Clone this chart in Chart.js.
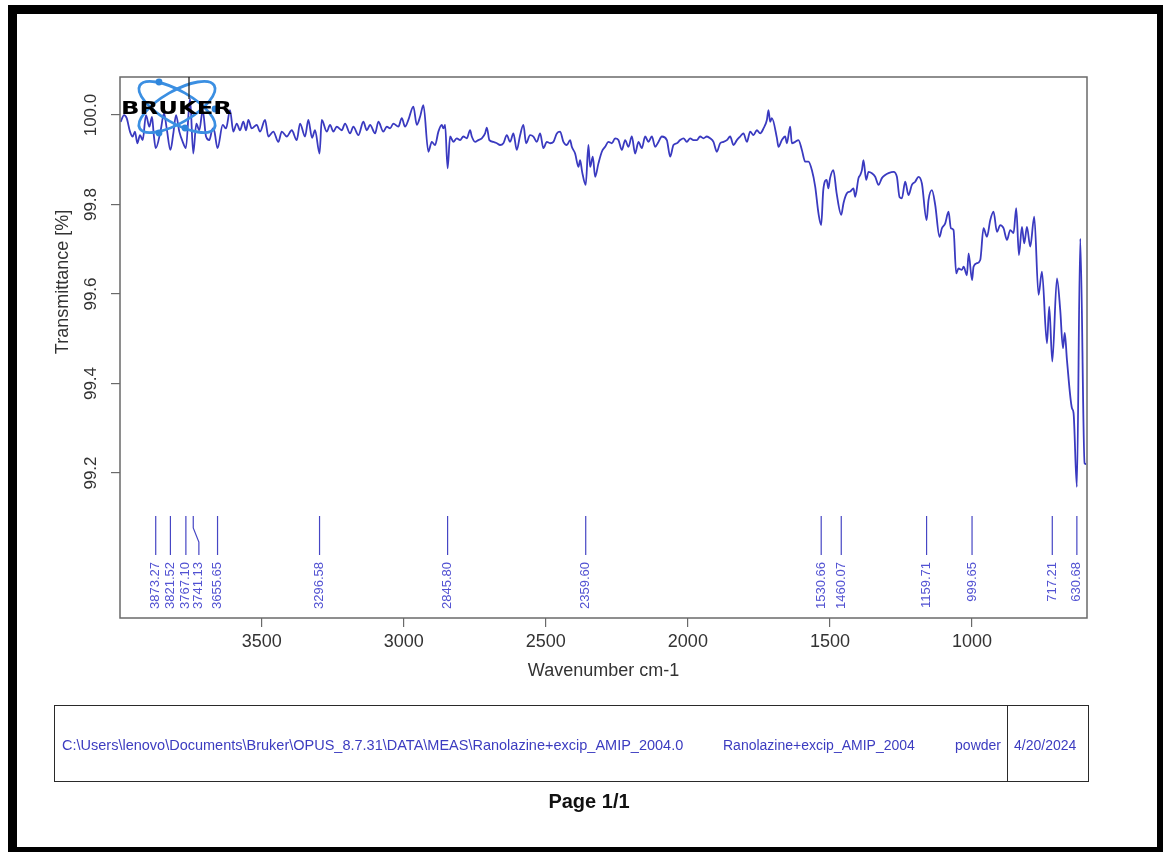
<!DOCTYPE html>
<html>
<head>
<meta charset="utf-8">
<title>Ranolazine+excip_AMIP_2004</title>
<script src="https://cdn.jsdelivr.net/npm/chart.js@4/dist/chart.umd.min.js"></script>
<style>
  html, body { margin: 0; padding: 0; background: #fff; }
  body { width: 1166px; height: 852px; position: relative; overflow: hidden;
         font-family: "Liberation Sans", Arial, sans-serif; }
  #spectrum { position: absolute; left: 0; top: 0; }
  .edge { position: absolute; background: #000; }
  #info { position: absolute; left: 54px; top: 705px; width: 1035px; height: 77px;
          border: 1.5px solid #2a2a2a; box-sizing: border-box; }
  #info .sep { position: absolute; left: 952px; top: 0; bottom: 0; width: 0;
               border-left: 1.5px solid #2a2a2a; }
  .cell { position: absolute; top: 30px; height: 18px; line-height: 18px;
          font-size: 14px; color: #3c3cc0; white-space: nowrap; }
  #page { position: absolute; left: 0; width: 1178px; top: 789px; height: 24px; line-height: 24px;
          text-align: center; font-weight: bold; font-size: 20px; color: #111; }
</style>
</head>
<body>
<div class="edge" style="left:8px;top:5px;width:1152px;height:9px"></div>
<div class="edge" style="left:8px;top:5px;width:9px;height:847px"></div>
<div class="edge" style="left:1157px;top:5px;width:6px;height:847px"></div>
<div class="edge" style="left:8px;top:847px;width:1155px;height:5px"></div>

<canvas id="spectrum" width="1166" height="852"></canvas>

<div id="info">
  <div class="cell" style="left:7px;font-size:14.5px">C:\Users\lenovo\Documents\Bruker\OPUS_8.7.31\DATA\MEAS\Ranolazine+excip_AMIP_2004.0</div>
  <div class="cell" style="left:668px">Ranolazine+excip_AMIP_2004</div>
  <div class="cell" style="left:880px;width:66px;text-align:right">powder</div>
  <div class="sep"></div>
  <div class="cell" style="left:959px">4/20/2024</div>
</div>
<div id="page">Page 1/1</div>

<script>
// Wavenumbers (cm-1) of the recorded spectrum, high to low
const WAVENUMBER = [
  3996.5, 3984.9, 3975.4, 3963.8, 3954.3, 3946.2, 3938.1, 3928.6, 3919.1, 3907.5,
  3895.8, 3886.3, 3880.0, 3873.27, 3855.7, 3844.1, 3834.6, 3821.52, 3811.3, 3801.8,
  3790.2, 3778.2, 3767.10, 3752.5, 3741.13, 3730.3, 3719.8, 3707.8, 3696.2, 3684.6,
  3672.6, 3666.6, 3655.65, 3637.4, 3625.8, 3611.7, 3600.1, 3588.1, 3576.5, 3564.8,
  3555.3, 3547.2, 3535.3, 3517.7, 3506.0, 3488.4, 3476.8, 3459.2, 3441.6, 3429.6,
  3412.0, 3394.4, 3376.8, 3365.2, 3347.6, 3336.0, 3323.0, 3312.4, 3296.58, 3288.8,
  3271.2, 3259.6, 3247.9, 3236.0, 3218.4, 3206.8, 3189.1, 3177.5, 3159.9, 3142.3,
  3130.3, 3118.7, 3101.1, 3089.5, 3071.9, 3059.9, 3048.3, 3036.7, 3019.1, 3007.1,
  2995.5, 2983.9, 2966.3, 2954.3, 2942.7, 2931.0, 2913.5, 2901.5, 2889.9, 2878.2,
  2866.3, 2860.6, 2854.6, 2845.80, 2837.0, 2825.4, 2813.4, 2801.8, 2790.2, 2778.2,
  2766.6, 2760.6, 2749.0, 2737.4, 2725.4, 2713.8, 2707.8, 2698.7, 2684.6, 2672.6,
  2661.0, 2649.4, 2637.4, 2625.8, 2614.2, 2602.2, 2590.6, 2579.0, 2569.5, 2555.4,
  2543.7, 2531.8, 2520.1, 2508.5, 2496.5, 2484.9, 2473.3, 2461.3, 2449.7, 2438.1,
  2426.1, 2414.5, 2408.5, 2396.9, 2385.2, 2379.3, 2372.2, 2359.60, 2350.1, 2344.1,
  2334.6, 2326.5, 2314.8, 2302.9, 2291.3, 2279.6, 2267.7, 2256.1, 2244.5, 2232.5,
  2220.8, 2209.2, 2197.3, 2185.6, 2174.0, 2162.0, 2150.4, 2138.8, 2126.8, 2115.2,
  2103.6, 2091.6, 2074.0, 2062.4, 2050.7, 2038.8, 2027.2, 2015.5, 2003.6, 1991.9,
  1980.3, 1968.4, 1956.8, 1945.1, 1933.2, 1921.6, 1909.9, 1898.0, 1886.3, 1874.7,
  1862.7, 1851.1, 1839.5, 1827.5, 1815.9, 1804.3, 1792.3, 1780.7, 1769.1, 1757.1,
  1745.5, 1733.8, 1721.9, 1716.3, 1710.3, 1704.3, 1686.7, 1681.0, 1669.1, 1657.5,
  1651.5, 1639.9, 1634.0, 1622.3, 1610.7, 1598.7, 1587.1, 1575.4, 1563.5, 1551.8,
  1540.2, 1530.66, 1523.4, 1511.5, 1505.5, 1499.5, 1487.9, 1476.3, 1460.07, 1452.2,
  1440.2, 1428.6, 1417.0, 1411.0, 1399.4, 1393.4, 1387.4, 1381.8, 1372.3, 1364.1,
  1352.2, 1340.6, 1328.9, 1317.0, 1305.4, 1293.7, 1276.1, 1264.2, 1255.0, 1246.6,
  1235.0, 1223.4, 1211.4, 1199.8, 1188.1, 1176.2, 1159.71, 1152.9, 1140.9, 1129.3,
  1114.2, 1105.7, 1094.1, 1082.5, 1074.0, 1064.9, 1055.4, 1047.3, 1035.3, 1029.3,
  1017.7, 1011.8, 999.65, 994.4, 982.5, 970.8, 959.2, 947.2, 935.6, 924.0,
  912.0, 900.4, 888.8, 876.8, 865.2, 853.6, 844.1, 834.6, 824.1, 816.0,
  806.4, 794.8, 780.7, 765.6, 753.6, 736.0, 727.9, 717.21, 700.8, 689.2,
  679.7, 673.3, 665.6, 648.0, 642.3, 630.68, 618.7, 603.5, 598.0
];

// Transmittance (%) at each wavenumber above
const TRANSMITTANCE = [
  99.985, 100.000, 99.993, 99.963, 99.952, 99.963, 99.937, 99.955, 99.944, 100.000,
  99.974, 99.996, 99.955, 99.926, 99.966, 100.004, 99.970, 99.922, 99.959, 100.000,
  99.963, 99.940, 99.926, 100.037, 99.914, 99.981, 99.966, 100.011, 99.952, 99.944,
  99.970, 99.963, 99.926, 99.978, 99.970, 100.011, 99.963, 99.981, 99.966, 99.985,
  99.966, 99.989, 99.970, 99.978, 99.963, 99.989, 99.952, 99.963, 99.940, 99.963,
  99.952, 99.966, 99.944, 99.981, 99.952, 99.989, 99.949, 99.966, 99.914, 99.989,
  99.963, 99.978, 99.963, 99.974, 99.966, 99.981, 99.959, 99.974, 99.955, 99.985,
  99.966, 99.978, 99.959, 99.985, 99.963, 99.974, 99.970, 99.981, 99.974, 99.993,
  99.974, 99.989, 100.019, 99.978, 99.996, 100.022, 99.918, 99.940, 99.933, 99.963,
  99.978, 99.970, 99.978, 99.881, 99.952, 99.940, 99.948, 99.944, 99.952, 99.948,
  99.966, 99.952, 99.940, 99.944, 99.948, 99.959, 99.972, 99.944, 99.940, 99.937,
  99.933, 99.937, 99.955, 99.940, 99.959, 99.922, 99.955, 99.978, 99.937, 99.955,
  99.952, 99.940, 99.959, 99.926, 99.940, 99.937, 99.940, 99.959, 99.963, 99.940,
  99.933, 99.944, 99.929, 99.914, 99.884, 99.899, 99.873, 99.844, 99.933, 99.884,
  99.907, 99.862, 99.892, 99.918, 99.929, 99.940, 99.937, 99.948, 99.944, 99.922,
  99.944, 99.929, 99.952, 99.914, 99.940, 99.926, 99.952, 99.940, 99.952, 99.929,
  99.940, 99.952, 99.944, 99.907, 99.933, 99.937, 99.944, 99.948, 99.940, 99.948,
  99.944, 99.944, 99.952, 99.948, 99.952, 99.948, 99.940, 99.918, 99.937, 99.940,
  99.944, 99.952, 99.933, 99.944, 99.952, 99.959, 99.940, 99.963, 99.955, 99.966,
  99.959, 99.970, 99.989, 100.011, 99.985, 99.993, 99.949, 99.929, 99.944, 99.952,
  99.937, 99.974, 99.937, 99.940, 99.944, 99.922, 99.896, 99.896, 99.877, 99.840,
  99.780, 99.754, 99.832, 99.855, 99.836, 99.859, 99.877, 99.825, 99.777, 99.803,
  99.825, 99.829, 99.836, 99.817, 99.859, 99.866, 99.877, 99.899, 99.855, 99.873,
  99.870, 99.862, 99.844, 99.859, 99.866, 99.870, 99.873, 99.862, 99.817, 99.814,
  99.851, 99.821, 99.844, 99.851, 99.862, 99.847, 99.765, 99.810, 99.832, 99.799,
  99.728, 99.747, 99.758, 99.784, 99.747, 99.743, 99.646, 99.657, 99.654, 99.661,
  99.642, 99.691, 99.631, 99.661, 99.669, 99.676, 99.747, 99.728, 99.765, 99.784,
  99.739, 99.754, 99.747, 99.721, 99.743, 99.736, 99.792, 99.687, 99.750, 99.713,
  99.750, 99.706, 99.773, 99.598, 99.650, 99.490, 99.572, 99.449, 99.635, 99.564,
  99.479, 99.513, 99.453, 99.345, 99.334, 99.169, 99.724, 99.222, 99.220
];

// Picked absorption bands (cm-1) and their printed labels
const PEAKS = [3873.27, 3821.52, 3767.10, 3741.13, 3655.65, 3296.58, 2845.80, 2359.60,
               1530.66, 1460.07, 1159.71, 999.65, 717.21, 630.68];
const PEAK_LABELS = ['3873.27', '3821.52', '3767.10', '3741.13', '3655.65', '3296.58', '2845.80',
                     '2359.60', '1530.66', '1460.07', '1159.71', '999.65', '717.21', '630.68'];

// Axis ticks
const X_TICKS = [3500, 3000, 2500, 2000, 1500, 1000];
const Y_TICKS = [99.2, 99.4, 99.6, 99.8, 100.0];
const Y_TICK_LABELS = ['99.2', '99.4', '99.6', '99.8', '100.0'];

const AXIS_FONT = '"Liberation Sans", Arial, sans-serif';
const INK = '#333333';

// Frame, rotated y labels, peak markers and the instrument logo
const spectrumDecor = {
  id: 'spectrumDecor',
  afterDatasetsDraw(chart) {
    const { ctx, chartArea: a, scales } = chart;
    const xs = scales.x, ys = scales.y;
    ctx.save();

    // plot box
    ctx.strokeStyle = '#6a6a6a';
    ctx.lineWidth = 1.5;
    ctx.strokeRect(a.left, a.top, a.right - a.left, a.bottom - a.top);

    // y tick labels, written along the axis
    ctx.fillStyle = INK;
    ctx.font = '17px ' + AXIS_FONT;
    ctx.textAlign = 'center';
    ctx.textBaseline = 'middle';
    Y_TICKS.forEach((v, i) => {
      ctx.save();
      ctx.translate(a.left - 28.5, ys.getPixelForValue(v));
      ctx.rotate(-Math.PI / 2);
      ctx.fillText(Y_TICK_LABELS[i], 0, 0);
      ctx.restore();
    });

    // y axis title
    ctx.save();
    ctx.font = '18px ' + AXIS_FONT;
    ctx.translate(a.left - 57, a.top + 205);
    ctx.rotate(-Math.PI / 2);
    ctx.fillText('Transmittance [%]', 0, 0);
    ctx.restore();

    // peak markers with labels, nudged apart where bands crowd together
    const lineTop = a.bottom - 102, bendTop = a.bottom - 90, bendBottom = a.bottom - 76;
    const lineBottom = a.bottom - 63, textEnd = a.bottom - 56;
    let prevLabelX = -Infinity;
    ctx.lineWidth = 1.2;
    ctx.strokeStyle = '#4646c4';
    ctx.fillStyle = '#5252d2';
    ctx.font = '13px ' + AXIS_FONT;
    ctx.textAlign = 'right';
    PEAKS.forEach((p, i) => {
      const px = xs.getPixelForValue(p);
      const lx = Math.max(px, prevLabelX + 13);
      prevLabelX = lx;
      ctx.beginPath();
      if (lx - px > 0.5) {
        ctx.moveTo(px, lineTop);
        ctx.lineTo(px, bendTop);
        ctx.lineTo(lx, bendBottom);
        ctx.lineTo(lx, lineBottom);
      } else {
        ctx.moveTo(px, lineTop);
        ctx.lineTo(px, lineBottom);
      }
      ctx.stroke();
      ctx.save();
      ctx.translate(lx, textEnd);
      ctx.rotate(-Math.PI / 2);
      ctx.fillText(PEAK_LABELS[i], 0, 0);
      ctx.restore();
    });

    // logo: atom orbits with the maker's name across them
    const cx = a.left + 57, cy = a.top + 30;
    ctx.strokeStyle = '#3b8fe2';
    ctx.lineWidth = 2.8;
    [Math.PI / 6, -Math.PI / 6].forEach(rot => {
      ctx.beginPath();
      ctx.ellipse(cx, cy, 43, 16, rot, 0, Math.PI * 2);
      ctx.stroke();
    });
    ctx.fillStyle = '#2f86dc';
    [[-18, -25], [-18, 26], [8, 21], [38, 2]].forEach(([dx, dy]) => {
      ctx.beginPath();
      ctx.arc(cx + dx, cy + dy, 3.4, 0, Math.PI * 2);
      ctx.fill();
    });
    ctx.strokeStyle = '#222';
    ctx.lineWidth = 1.3;
    ctx.beginPath();
    ctx.moveTo(a.left + 69, a.top);
    ctx.lineTo(a.left + 69, a.top + 22);
    ctx.stroke();
    ctx.fillStyle = '#000';
    ctx.font = 'bold 17px "DejaVu Sans", ' + AXIS_FONT;
    ctx.textAlign = 'left';
    ctx.textBaseline = 'alphabetic';
    const w = ctx.measureText('BRUKER').width;
    ctx.translate(a.left + 1, a.top + 36.5);
    ctx.scale(111 / w, 1);
    ctx.fillText('BRUKER', 0, 0);

    ctx.restore();
  }
};

new Chart(document.getElementById('spectrum'), {
  type: 'line',
  data: {
    datasets: [{
      data: WAVENUMBER.map((w, i) => ({ x: w, y: TRANSMITTANCE[i] })),
      borderColor: '#3a3ac0',
      borderWidth: 1.8,
      pointRadius: 0,
      cubicInterpolationMode: 'monotone',
      borderJoinStyle: 'round',
      fill: false
    }]
  },
  options: {
    responsive: false,
    animation: false,
    devicePixelRatio: 1,
    layout: { padding: { left: 0, top: 77, right: 79, bottom: 168 } },
    plugins: { legend: { display: false }, tooltip: { enabled: false } },
    scales: {
      x: {
        type: 'linear',
        position: 'bottom',
        reverse: true,
        min: 595,
        max: 3999,
        afterBuildTicks: s => { s.ticks = X_TICKS.map(v => ({ value: v })); },
        afterFit: s => { s.height = 66; },
        ticks: {
          callback: v => String(v),
          color: INK,
          font: { family: AXIS_FONT, size: 18 },
          padding: 4,
          maxRotation: 0,
          autoSkip: false
        },
        grid: { drawOnChartArea: false, drawTicks: true, tickLength: 9, color: '#6a6a6a', lineWidth: 1.2 },
        border: { display: false },
        title: {
          display: true,
          text: 'Wavenumber cm-1',
          color: INK,
          font: { family: AXIS_FONT, size: 18 },
          padding: { top: 0, bottom: 2 }
        }
      },
      y: {
        type: 'linear',
        position: 'left',
        min: 98.876,
        max: 100.085,
        afterBuildTicks: s => { s.ticks = Y_TICKS.map(v => ({ value: v })); },
        afterFit: s => { s.width = 120; },
        ticks: { display: false },
        grid: { drawOnChartArea: false, drawTicks: true, tickLength: 9, color: '#6a6a6a', lineWidth: 1.2 },
        border: { display: false }
      }
    }
  },
  plugins: [spectrumDecor]
});
</script>
</body>
</html>
